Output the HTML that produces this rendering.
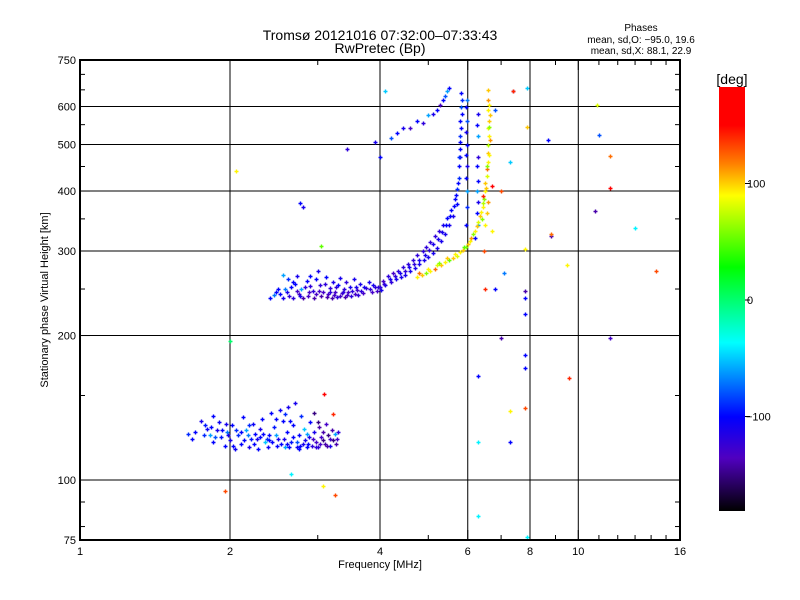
<!DOCTYPE html>
<html><head><meta charset="utf-8"><style>
html,body{margin:0;padding:0;background:#fff;}
svg{display:block;font-family:"Liberation Sans",sans-serif;}
</style></head><body>
<svg id="chart" width="800" height="600" viewBox="0 0 800 600">
<defs>
<linearGradient id="cbar" x1="0" y1="1" x2="0" y2="0">
<stop offset="0" stop-color="#000000"/>
<stop offset="0.125" stop-color="#5000c0"/>
<stop offset="0.222" stop-color="#0000ff"/>
<stop offset="0.397" stop-color="#00ffff"/>
<stop offset="0.575" stop-color="#00ff00"/>
<stop offset="0.744" stop-color="#ffff00"/>
<stop offset="0.819" stop-color="#ff8000"/>
<stop offset="0.91" stop-color="#ff0000"/>
<stop offset="1" stop-color="#ff0000"/>
</linearGradient>
</defs>
<text x="380" y="40" text-anchor="middle" font-size="14">Tromsø 20121016 07:32:00–07:33:43</text>
<text x="380" y="53" text-anchor="middle" font-size="14">RwPretec (Bp)</text>
<g font-size="10" text-anchor="middle">
<text x="641" y="31">Phases</text>
<text x="641" y="43">mean, sd,O: −95.0, 19.6</text>
<text x="641" y="54">mean, sd,X:  88.1, 22.9</text>
</g>
<g id="grid"></g>
<g id="marks"></g>
<rect x="80" y="60" width="600" height="480" fill="none" stroke="#000" stroke-width="2"/>
<g id="ticks"></g>
<text x="380" y="568" text-anchor="middle" font-size="11">Frequency [MHz]</text>
<text transform="translate(48,300) rotate(-90)" text-anchor="middle" font-size="11">Stationary phase Virtual Height [km]</text>
<rect x="719" y="87" width="26" height="424" fill="url(#cbar)"/>
<text x="732" y="84" text-anchor="middle" font-size="14">[deg]</text>
<g id="cbticks" font-size="11"></g>
</svg>
<script>
const xTicks=[1,2,4,6,8,10,16];
const xMinor=[3,5,7,9,11,12,13,14,15];
const yTicks=[75,100,200,300,400,500,600,750];
const yGrid=[100,200,300,400,500,600];
const xGrid=[2,4,6,8,10];
const yMinor=[80,90,150,250,350,450,550,650,700];
const cbTicks=[100,0,-100];
// [freq MHz, height km, phase deg]
const eLayer=[[1.65,125,-90],[1.68,122,-100],[1.75,133,-110],[1.78,130,-95],[1.8,128,-105],[1.82,124,-60],[1.85,120,-100],[1.88,127,-110],[1.9,132,-105],[1.92,123,-95],[1.95,118,-100],[1.97,126,-70],[2.0,121,-110],[2.02,130,-100],[2.05,116,-105],[2.08,124,-90],[2.1,119,-100],[2.12,135,-100],[2.15,127,-60],[2.18,117,-110],[2.2,122,-95],[2.22,131,-105],[2.25,125,-100],[2.28,116,-100],[2.3,128,-110],[2.32,134,-100],[2.35,120,-50],[2.38,117,-105],[2.4,124,-100],[2.42,138,-100],[2.45,129,-95],[2.48,118,-100],[2.5,122,-110],[2.52,140,-105],[2.55,133,-100],[2.58,117,-60],[2.6,126,-100],[2.62,142,-110],[2.65,120,-95],[2.68,130,-100],[2.7,145,-110],[2.72,117,-105],[2.75,124,-100],[2.78,136,-90],[2.8,119,-110],[2.82,128,-50],[2.85,117,-100],[2.88,123,-110],[2.9,132,-100],[2.92,118,-120],[2.95,126,-110],[2.98,120,-130],[3.0,117,-120],[3.02,129,-140],[3.05,123,-130],[3.08,126,-140],[3.1,119,-140],[3.12,131,-130],[3.15,124,-150],[3.18,118,-110],[3.2,127,-140],[3.22,121,-150],[3.25,125,-60],[3.28,122,-130],[3.3,126,-120],[3.0,132,-150],[2.95,138,-150],[3.09,151,175],[3.22,137,140],[2.4,121,-100],[2.1,126,-100],[1.85,136,-100],[2.6,119,-105],[2.75,116,-100],
[1.7,126,-100],[1.77,124,-90],[1.83,129,-100],[1.87,123,-80],[1.93,127,-100],[1.98,124,-110],[2.03,118,-100],[2.06,127,-90],[2.13,121,-100],[2.17,124,-70],[2.23,119,-100],[2.27,122,-110],[2.33,125,-100],[2.37,122,-90],[2.43,120,-100],[2.47,124,-60],[2.53,119,-100],[2.57,122,-110],[2.63,117,-100],[2.67,123,-100],[2.73,120,-80],[2.77,118,-100],[2.83,121,-110],[2.87,119,-100],[2.93,122,-130],[2.97,117,-120],[3.03,119,-130],[3.07,121,-150],[3.13,118,-140],[3.17,122,-130],[3.27,119,-140],[2.64,133,-100],[2.58,137,-90],[2.47,134,-100],[2.18,130,-90],[1.96,131,-110],[2.3,123,-100],[2.85,125,-60]];
const fLayerO=[[2.41,240,-100],[2.45,243,-70],[2.5,250,-100],[2.55,267,-60],[2.55,240,-110],[2.6,246,-110],[2.62,262,-90],[2.65,252,-100],[2.68,240,-120],[2.7,256,-100],[2.72,266,-110],[2.75,244,-130],[2.78,250,-60],[2.8,240,-140],[2.85,260,-100],[2.88,246,-130],[2.9,254,-120],[2.95,240,-140],[2.98,262,-100],[3.0,272,-110],[3.02,248,-130],[3.05,242,-140],[3.1,256,-120],[3.12,265,-100],[3.15,244,-130],[3.18,251,-120],[3.2,240,-140],[3.22,258,-110],[3.25,247,-130],[3.28,241,-120],[3.3,255,-100],[3.32,264,-110],[3.35,245,-130],[3.38,250,-120],[3.4,241,-140],[3.42,258,-120],[3.45,247,-130],[3.48,253,-110],[3.5,242,-120],[3.55,262,-110],[3.6,249,-130],[3.62,243,-120],[3.65,256,-110],[3.7,245,-130],[3.75,251,-120],[3.8,258,-110],[3.85,246,-130],[3.9,252,-120],[3.95,248,-130],[4.0,253,-120],[4.05,260,-130],[4.1,255,-110],[4.15,266,-120],[4.2,258,-120],[4.25,270,-130],[4.3,262,-110],[4.35,273,-120],[4.4,265,-110],[4.45,278,-120],[4.5,268,-110],[4.55,282,-120],[4.6,272,-110],[4.65,288,-120],[4.7,277,-110],[4.75,294,-120],[4.8,282,-110],[4.87,300,-120],[4.9,287,-110],[4.95,306,-120],[5.0,291,-110],[5.05,314,-120],[5.1,297,-110],[5.15,322,-120],[5.2,305,-110],[5.25,330,-120],[5.3,315,-110],[5.35,340,-110],[5.4,326,-110],[5.45,352,-100],[5.5,340,-110],[5.55,366,-100],[5.6,355,-110],[5.65,385,-100],[5.7,403,-90],[5.72,375,-100],[5.75,450,-100],[5.76,425,-90],[5.78,490,-100],[5.8,520,-90],[5.8,560,-100],[5.82,600,-80],[5.82,640,-100],[5.8,470,-110],[5.84,580,-100],[5.98,620,-70],[5.98,560,-80],[5.98,500,-100],[5.98,450,-110],[5.98,400,-60],[5.98,370,-90],[5.95,340,-100],[6.28,580,-110],[6.28,520,-60],[6.28,470,-120],[6.28,420,-100],[6.28,380,-110],[6.28,340,-60],[6.2,320,-100],[3.43,490,-120],[3.9,506,-110],[4.0,470,-100],[4.2,515,-80],[4.33,528,-100],[4.45,540,-110],[4.6,540,-130],[4.75,560,-100],[4.87,555,-120],[5.0,575,-60],[5.1,580,-110],[5.2,590,-100],[5.28,604,-130],[5.35,620,-100],[5.4,630,-80],[5.5,655,-100],[5.45,645,-60],[4.1,647,-50],
[2.47,246,-100],[2.52,244,-100],[2.58,250,-70],[2.63,242,-120],[2.67,258,-100],[2.73,248,-130],[2.77,242,-110],[2.83,252,-120],[2.87,242,-130],[2.93,248,-120],[2.97,244,-130],[3.03,255,-120],[3.07,246,-130],[3.13,241,-140],[3.17,247,-120],[3.23,243,-130],[3.27,252,-120],[3.33,242,-130],[3.37,246,-120],[3.43,243,-130],[3.52,248,-120],[3.57,244,-130],[3.67,248,-120],[3.72,252,-110],[3.82,250,-120],[3.88,255,-110],[3.97,252,-120],[4.02,249,-110],[4.08,256,-120],[4.18,262,-110],[4.28,266,-120],[4.38,270,-110],[4.48,273,-120],[4.58,278,-110],[4.68,282,-120],[4.78,288,-110],[4.92,295,-110],[5.02,302,-120],[5.12,310,-110],[5.22,318,-110],[5.32,328,-110],[5.42,340,-100],[5.52,355,-100],[5.62,372,-100],[5.68,392,-100],[5.74,415,-100],[5.77,470,-90],[5.79,505,-100],[5.81,540,-100],[5.83,620,-90],[5.96,600,-100],[5.96,530,-110],[5.96,475,-100],[5.96,425,-100],[6.27,550,-100],[6.27,450,-100],[6.27,400,-60],[6.25,360,-100],[3.58,252,-110],[2.9,266,-100]];
const fLayerX=[[4.74,265,90],[4.85,268,100],[4.95,270,60],[5.05,272,90],[5.15,275,120],[5.2,280,80],[5.3,280,100],[5.4,284,90],[5.5,287,50],[5.6,290,100],[5.7,293,80],[5.8,298,90],[5.87,301,100],[5.95,306,60],[6.05,315,90],[6.1,320,110],[6.2,330,90],[6.3,345,80],[6.35,355,100],[6.43,370,90],[6.47,385,60],[6.5,400,90],[6.5,415,100],[6.55,430,80],[6.55,445,120],[6.59,460,90],[6.6,480,100],[6.6,500,70],[6.62,520,90],[6.6,540,80],[6.62,560,100],[6.6,590,90],[6.6,620,110],[6.58,650,100],[6.45,390,140],[6.4,350,60],[6.7,330,90],[6.7,410,150],[6.48,300,130],
[4.8,270,120],[5.0,275,90],[5.25,283,60],[5.45,290,100],[5.65,296,90],[5.9,306,50],[6.0,310,100],[6.15,325,60],[6.25,338,100],[6.38,362,90],[6.45,378,70],[6.52,405,100],[6.57,450,60],[6.62,475,90],[6.64,510,110],[6.63,545,60],[6.64,575,100],[6.62,605,90],[6.5,340,90],[6.55,360,100],[6.6,380,110]];
const scatterPts=[[7.4,647,-140],[7.4,645,140],[7.9,655,-50],[11.0,523,-80],[11.6,473,120],[11.6,406,170],[10.8,364,-140],[13.0,335,-40],[14.3,273,130],[8.8,322,-140],[8.8,325,120],[9.5,281,90],[7.8,303,90],[7.9,543,100],[8.7,512,-100],[7.3,459,-50],[7.8,248,-140],[7.8,240,-100],[7.8,222,-100],[7.0,198,-140],[7.8,182,-100],[7.8,171,-100],[11.6,198,-130],[9.6,163,140],[6.3,165,-100],[6.3,120,-40],[7.3,139,90],[7.8,141,130],[7.3,120,-100],[6.3,84,-40],[7.9,76,-40],[2.76,377,-100],[2.8,370,-110],[2.06,440,90],[3.04,307,50],[2.0,195,0],[2.65,103,-40],[3.07,97,90],[3.25,93,130],[1.95,95,130],[10.9,605,80],[6.8,590,-80],[7.0,400,130],[6.8,250,-100],[7.1,270,-70],[6.5,250,140]];
const NS="http://www.w3.org/2000/svg";
const X0=80,X1=680,Y0=540,Y1=60;
function xs(f){return X0+(X1-X0)*Math.log2(f)/4;}
function ys(h){return Y0-(Y0-Y1)*Math.log10(h/75);}
const cstops=[[-180,[0,0,0]],[-135,[80,0,192]],[-100,[0,0,255]],[-37,[0,255,255]],[27,[0,255,0]],[88,[255,255,0]],[115,[255,128,0]],[150,[255,0,0]],[180,[255,0,0]]];
function col(p){
  p=Math.max(-180,Math.min(180,p));
  for(let i=0;i<cstops.length-1;i++){const a=cstops[i],b=cstops[i+1];
    if(p<=b[0]){const t=(p-a[0])/(b[0]-a[0]);const c=a[1].map((v,k)=>Math.round(v+(b[1][k]-v)*t));return 'rgb('+c.join(',')+')';}}
  return 'rgb(255,0,0)';
}
function mk(tag,attrs,parent){const e=document.createElementNS(NS,tag);for(const k in attrs)e.setAttribute(k,attrs[k]);parent.appendChild(e);return e;}
const grid=document.getElementById('grid');
xGrid.forEach(v=>{const l=mk('line',{x1:xs(v),x2:xs(v),y1:Y1,y2:Y0,stroke:'#000','stroke-width':1},grid);

});
yGrid.forEach(v=>{const l=mk('line',{x1:X0,x2:X1,y1:ys(v),y2:ys(v),stroke:'#000','stroke-width':1},grid);

});
const ticks=document.getElementById('ticks');
xTicks.forEach(v=>{const t=mk('text',{x:xs(v),y:555,'text-anchor':'middle','font-size':11},ticks);t.textContent=v;

});
yTicks.forEach(v=>{const t=mk('text',{x:76,y:ys(v)+4,'text-anchor':'end','font-size':11},ticks);t.textContent=v;

});
xTicks.concat(xMinor).forEach(v=>{const big=xTicks.includes(v)?10:5;
mk('line',{x1:xs(v),x2:xs(v),y1:Y0,y2:Y0-big,stroke:'#000'},ticks);
mk('line',{x1:xs(v),x2:xs(v),y1:Y1,y2:Y1+big,stroke:'#000'},ticks);});
yTicks.concat(yMinor).forEach(v=>{const big=yTicks.includes(v)?10:5;
mk('line',{x1:X0,x2:X0+big,y1:ys(v),y2:ys(v),stroke:'#000'},ticks);
mk('line',{x1:X1,x2:X1-big,y1:ys(v),y2:ys(v),stroke:'#000'},ticks);});
const marks=document.getElementById('marks');
function drawSet(arr,name){arr.forEach(d=>{const x=Math.round(xs(d[0]))+0.5,y=Math.round(ys(d[1]))+0.5;
const p=mk('path',{d:'M'+(x-2)+' '+y+'H'+(x+2)+'M'+x+' '+(y-2)+'V'+(y+2),stroke:col(d[2]),'stroke-width':1.4,fill:'none'},marks);

});}
drawSet(eLayer,'e-layer-point');
drawSet(fLayerO,'f-layer-o-point');
drawSet(fLayerX,'f-layer-x-point');
drawSet(scatterPts,'scatter-point');
const cb=document.getElementById('cbticks');
cbTicks.forEach(v=>{const y=300-v*1.165;
mk('line',{x1:745,x2:750,y1:y,y2:y,stroke:'#000'},cb);
const t=mk('text',{x:v<0?746:747,y:y+4},cb);t.textContent=v<0?'−'+Math.abs(v):v;

});
</script>
</body></html>
